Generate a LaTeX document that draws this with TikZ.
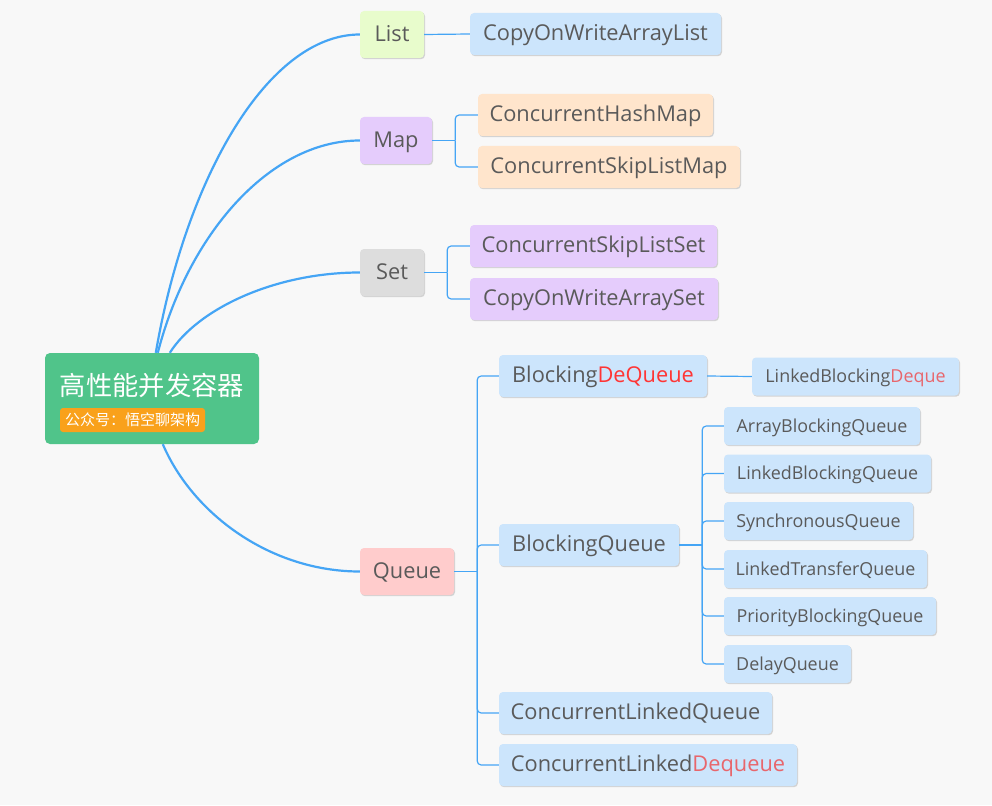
\documentclass[tikz,border=0pt]{standalone}
\usepackage{fontspec}
\setmainfont{Open Sans}
\newfontfamily\cjkfont{Noto Sans CJK SC}
\usetikzlibrary{shadows}

\definecolor{bgcol}{HTML}{F8F8F8}
\definecolor{textcol}{HTML}{5A5A5A}
\definecolor{linecol}{HTML}{45A5F5}
\definecolor{rootcol}{HTML}{50C48A}
\definecolor{badgecol}{HTML}{F9A11B}
\definecolor{greencol}{HTML}{E8FCCC}
\definecolor{bluecol}{HTML}{CCE5FC}
\definecolor{purplecol}{HTML}{E5CCFC}
\definecolor{peachcol}{HTML}{FFE5CC}
\definecolor{greycol}{HTML}{DDDDDD}
\definecolor{pinkcol}{HTML}{FFCCCC}
\definecolor{redA}{HTML}{FF3535}
\definecolor{redB}{HTML}{E8666C}

\tikzset{
  topic/.style={rounded corners=4pt, inner sep=0pt, text=textcol,
    font=\fontsize{21.8}{25}\selectfont, text height=15.6pt, text depth=2pt,
    drop shadow={shadow xshift=1pt, shadow yshift=-1.2pt, opacity=.15, fill=black}},
  subtopic/.style={topic, font=\fontsize{17.9}{21}\selectfont, text height=13pt, text depth=0.2pt,
    minimum height=38pt},
  trunk/.style={draw=linecol, line width=2.2pt},
  branch/.style={draw=linecol, line width=1.2pt},
}

\begin{document}
\begin{tikzpicture}[x=1pt, y=-1pt]
    \fill[bgcol] (0,0) rectangle (992,805);
    \useasboundingbox (0,0) rectangle (992,805);

    % root
    \node[rounded corners=5pt, fill=rootcol, minimum width=214pt, minimum height=91pt] (root) at (152,398.5) {};
    \node[text=white, font=\cjkfont\fontsize{26.3}{31}\selectfont, inner sep=0pt] (title) at (152,386) {高性能并发容器};
    \node[rounded corners=3pt, fill=badgecol, text=white, font=\cjkfont\fontsize{15}{18}\selectfont,
          minimum width=145pt, minimum height=24pt, inner sep=0pt] (badge) at (132.5,420) {公众号：悟空聊架构};

    % first level
    \node[topic, fill=greencol, minimum width=64pt, minimum height=47pt] (list) at (392,34.5) {List};
    \node[topic, fill=purplecol, minimum width=72pt, minimum height=47pt] (map) at (396,140.5) {Map};
    \node[topic, fill=greycol, minimum width=64pt, minimum height=47pt] (set) at (392,272.5) {Set};
    \node[topic, fill=pinkcol, minimum width=94pt, minimum height=47pt] (queue) at (407,571.5) {Queue};

    % List / Map / Set children
    \node[topic, fill=bluecol, minimum width=251pt, minimum height=42pt] (cowal) at (595.5,34) {CopyOnWriteArrayList};
    \node[topic, fill=peachcol, minimum width=235pt, minimum height=42pt] (chm) at (595.5,115) {ConcurrentHashMap};
    \node[topic, fill=peachcol, minimum width=262pt, minimum height=42pt] (cslm) at (609,167) {ConcurrentSkipListMap};
    \node[topic, fill=purplecol, minimum width=247pt, minimum height=42pt] (csls) at (593.5,246) {ConcurrentSkipListSet};
    \node[topic, fill=purplecol, minimum width=248pt, minimum height=42pt] (cowas) at (594,299) {CopyOnWriteArraySet};

    % Queue children
    \node[topic, fill=bluecol, minimum width=208pt, minimum height=42pt] (bdq) at (603,376) {Blocking\textcolor{redA}{DeQueue}};
    \node[topic, fill=bluecol, minimum width=180pt, minimum height=42pt] (bq) at (589,545) {BlockingQueue};
    \node[topic, fill=bluecol, minimum width=273pt, minimum height=42pt] (clq) at (635.5,713) {ConcurrentLinkedQueue};
    \node[topic, fill=bluecol, minimum width=298pt, minimum height=42pt] (cldq) at (648,765) {ConcurrentLinked\textcolor{redB}{Dequeue}};

    \node[subtopic, fill=bluecol, minimum width=207pt] (lbdq) at (855.5,376.5) {LinkedBlocking\textcolor{redB}{Deque}};
    \node[subtopic, fill=bluecol, minimum width=196pt] (abq) at (822,426) {ArrayBlockingQueue};
    \node[subtopic, fill=bluecol, minimum width=207pt] (lbq) at (827.5,473.5) {LinkedBlockingQueue};
    \node[subtopic, fill=bluecol, minimum width=189pt] (sq) at (818.5,521) {SynchronousQueue};
    \node[subtopic, fill=bluecol, minimum width=203pt] (ltq) at (825.5,569) {LinkedTransferQueue};
    \node[subtopic, fill=bluecol, minimum width=212pt] (pbq) at (830,616) {PriorityBlockingQueue};
    \node[subtopic, fill=bluecol, minimum width=127pt] (dq) at (787.5,664) {DelayQueue};

    % curves from the root
    \draw[trunk] ([xshift=111pt]root.north west) .. controls +(30,-175) and +(-92,0) .. (list.west);
    \draw[trunk] ([xshift=113pt]root.north west) .. controls +(30,-117) and +(-91,0) .. (map.west);
    \draw[trunk] ([xshift=125pt]root.north west) .. controls +(28,-44) and +(-85,0) .. (set.west);
    \draw[trunk] ([xshift=118pt]root.south west) .. controls +(30,70) and +(-89,0) .. (queue.west);

    % branches
    \draw[branch] (list.east) -- (cowal.west);
    \draw[branch] (bdq.east) -- (lbdq.west);
    \draw[branch] (map.east) -- ++(23,0) coordinate (mapj);
    \draw[branch] (set.east) -- ++(23,0) coordinate (setj);
    \draw[branch] (queue.east) -- ++(23,0) coordinate (queuej);
    \draw[branch] (bq.east) -- ++(23,0) coordinate (bqj);
    \foreach \child in {chm,cslm}
        \draw[branch, rounded corners=4pt] (mapj) |- (\child.west);
    \foreach \child in {csls,cowas}
        \draw[branch, rounded corners=4pt] (setj) |- (\child.west);
    \foreach \child in {bdq,bq,clq,cldq}
        \draw[branch, rounded corners=4pt] (queuej) |- (\child.west);
    \foreach \child in {abq,lbq,sq,ltq,pbq,dq}
        \draw[branch, rounded corners=4pt] (bqj) |- (\child.west);
\end{tikzpicture}
\end{document}
